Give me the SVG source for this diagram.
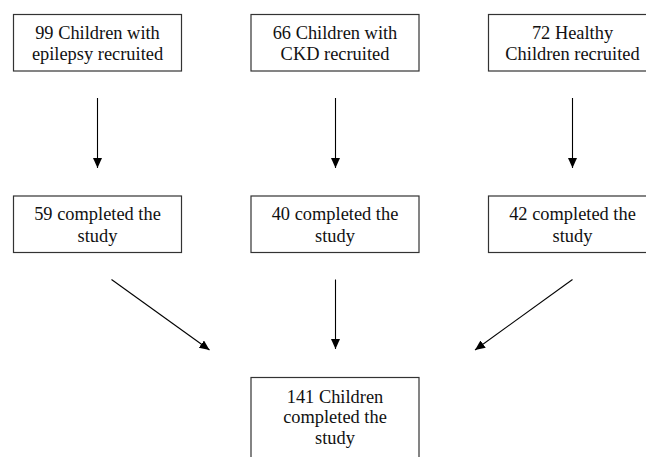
<svg xmlns="http://www.w3.org/2000/svg" width="646" height="457" viewBox="0 0 646 457">
<defs>
<style>
.box{fill:#fff;stroke:#333;stroke-width:1.2}
.t{font-family:"Liberation Serif","Times New Roman",serif;font-size:18.4px;fill:#111;text-anchor:middle}
.c{stroke:#000;stroke-width:1.1;fill:none}
</style>
<marker id="ah" markerUnits="userSpaceOnUse" markerWidth="12" markerHeight="10" refX="10" refY="4.5" orient="auto">
<path d="M0,0 L10,4.5 L0,9 Z" fill="#000"/>
</marker>
</defs>
<rect width="646" height="457" fill="#fff"/>
<g id="n1"><rect class="box" x="13.5" y="14.5" width="168" height="56.5"/><text class="t" x="97.5" y="38.5">99 Children with</text><text class="t" x="97.5" y="60">epilepsy recruited</text></g>
<g id="n2"><rect class="box" x="251" y="14.5" width="168" height="56.5"/><text class="t" x="335" y="38.5">66 Children with</text><text class="t" x="335" y="60">CKD recruited</text></g>
<g id="n3"><rect class="box" x="488.5" y="14.5" width="168" height="56.5"/><text class="t" x="572.5" y="38.5">72 Healthy</text><text class="t" x="572.5" y="60">Children recruited</text></g>
<g id="n4"><rect class="box" x="13.5" y="196" width="168" height="56.5"/><text class="t" x="97.5" y="220">59 completed the</text><text class="t" x="97.5" y="241.7">study</text></g>
<g id="n5"><rect class="box" x="251" y="196" width="168" height="56.5"/><text class="t" x="335" y="220">40 completed the</text><text class="t" x="335" y="241.7">study</text></g>
<g id="n6"><rect class="box" x="488.5" y="196" width="168" height="56.5"/><text class="t" x="572.5" y="220">42 completed the</text><text class="t" x="572.5" y="241.7">study</text></g>
<g id="n7"><rect class="box" x="251" y="377.5" width="168" height="100"/><text class="t" x="335" y="402.7">141 Children</text><text class="t" x="335" y="423.3">completed the</text><text class="t" x="335" y="443.5">study</text></g>
<g id="connectors">
<line class="c" x1="97.5" y1="98" x2="97.5" y2="168" marker-end="url(#ah)"/>
<line class="c" x1="335.5" y1="98" x2="335.5" y2="168" marker-end="url(#ah)"/>
<line class="c" x1="572.5" y1="98" x2="572.5" y2="168" marker-end="url(#ah)"/>
<line class="c" x1="111.5" y1="279.5" x2="209.5" y2="350" marker-end="url(#ah)"/>
<line class="c" x1="335.5" y1="279.5" x2="335.5" y2="349" marker-end="url(#ah)"/>
<line class="c" x1="572.5" y1="279.5" x2="475" y2="350" marker-end="url(#ah)"/>
</g>
</svg>
